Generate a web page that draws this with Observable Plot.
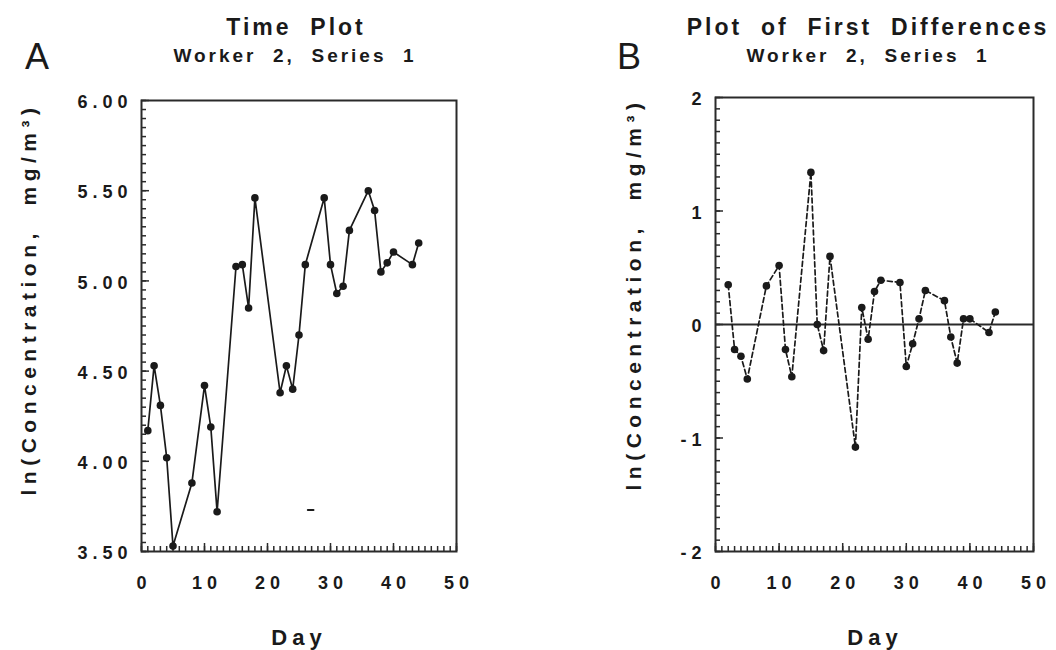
<!DOCTYPE html>
<html>
<head>
<meta charset="utf-8">
<script src="https://cdn.jsdelivr.net/npm/d3@7"></script>
<script src="https://cdn.jsdelivr.net/npm/@observablehq/plot@0.6"></script>
<style>
  html, body { margin: 0; padding: 0; background: #ffffff; }
  #root { position: relative; width: 1056px; height: 650px; overflow: hidden;
          font-family: "Liberation Sans", Arial, Helvetica, sans-serif; color: #1a1a1a; }
  .panel { position: absolute; top: 0; width: 528px; height: 650px; }
  .panel svg { position: absolute; left: 0; top: 0; overflow: visible; }
  .t { position: absolute; white-space: pre; line-height: 1; transform: translate(-50%, -50%); font-weight: bold; }
  .letter { font-weight: normal; font-size: 36px; }
  .title { font-size: 23px; letter-spacing: 3px; }
  .sub { font-size: 19px; letter-spacing: 3px; }
  .xlab { font-size: 22px; letter-spacing: 5px; }
  .ylab { font-size: 21px; letter-spacing: 5.5px; transform: translate(-50%, -50%) rotate(-90deg); }
</style>
</head>
<body>
<div id="root"></div>
<script>
// ---- Data ----
const days = [1, 2, 3, 4, 5, 8, 10, 11, 12, 15, 16, 17, 18, 22, 23, 24, 25, 26, 29, 30, 31, 32, 33, 36, 37, 38, 39, 40, 43, 44];
const lnConc = [4.17, 4.53, 4.31, 4.02, 3.53, 3.88, 4.42, 4.19, 3.72, 5.08, 5.09, 4.85, 5.46, 4.38, 4.53, 4.40, 4.70, 5.09, 5.46, 5.09, 4.93, 4.97, 5.28, 5.50, 5.39, 5.05, 5.10, 5.16, 5.09, 5.21];
const diffDays = [2, 3, 4, 5, 8, 10, 11, 12, 15, 16, 17, 18, 22, 23, 24, 25, 26, 29, 30, 31, 32, 33, 36, 37, 38, 39, 40, 43, 44];
const firstDiffs = [0.35, -0.22, -0.28, -0.48, 0.34, 0.52, -0.22, -0.46, 1.34, 0.00, -0.23, 0.60, -1.08, 0.15, -0.13, 0.29, 0.39, 0.37, -0.37, -0.17, 0.05, 0.30, 0.21, -0.11, -0.34, 0.05, 0.05, -0.07, 0.11];
// stray dash visible in panel A
const strayDay = [26.4, 27.3];
const strayVal = [3.73, 3.73];

const xTicks = [0, 10, 20, 30, 40, 50];
const yTicksA = [3.5, 4.0, 4.5, 5.0, 5.5, 6.0];
const yTicksB = [-2, -1, 0, 1, 2];
const xMinor = d3.range(0, 51, 1);
const yMinorA = d3.range(3.5, 6.0001, 0.05);
const yMinorB = d3.range(-2, 2.0001, 0.1);

const titles = {
  A: {letter: "A", title: "Time  Plot", sub: "Worker  2,  Series  1"},
  B: {letter: "B", title: "Plot  of  First  Differences", sub: "Worker  2,  Series  1"}
};
const yLabel = "ln(Concentration,  mg/m³)";
const xLabel = "Day";

const seriesA = days.map((d, i) => ({day: d, value: lnConc[i]}));
const seriesB = diffDays.map((d, i) => ({day: d, value: firstDiffs[i]}));
const stray = strayDay.map((d, i) => ({day: d, value: strayVal[i]}));

const ink = "#1a1a1a";
const frameInk = "#2a2a2a";
const plotStyle = {
  fontFamily: '"Liberation Sans", Arial, Helvetica, sans-serif',
  fontSize: "18px", fontWeight: "bold", letterSpacing: "5px",
  background: "transparent", color: ink, overflow: "visible"
};
const minusFmt = d => (d < 0 ? "-" + Math.abs(d) : String(d));

// inward ticks drawn with tick marks that only occupy the last L pixels of the frame
function inwardTicks(yMinor, yMajor, frameW, frameH) {
  const tx = (ticks, L) => Plot.tickX(ticks, {x: d => d, insetTop: frameH - L, stroke: frameInk, strokeWidth: 1.5});
  const ty = (ticks, L) => Plot.tickY(ticks, {y: d => d, insetRight: frameW - L, stroke: frameInk, strokeWidth: 1.5});
  return [tx(xMinor, 5), tx(xTicks, 8), ty(yMinor, 5), ty(yMajor, 8)];
}

function labelAxes(yMajor, yFmt) {
  return [
    Plot.axisX({ticks: xTicks, tickSize: 0, tickPadding: 25, tickFormat: d => String(d), dx: 2.5, fill: ink, label: null}),
    Plot.axisY({ticks: yMajor, tickSize: 0, tickPadding: 9, tickFormat: yFmt, dy: 2, fill: ink, label: null})
  ];
}

const A = {left: 141, right: 72, top: 100, bottom: 99};
const B = {left: 187, right: 23, top: 97, bottom: 99};

const plotA = Plot.plot({
  width: 528, height: 650,
  marginLeft: A.left, marginRight: A.right, marginTop: A.top, marginBottom: A.bottom,
  x: {domain: [0, 50], label: null},
  y: {domain: [3.5, 6.0], label: null},
  style: plotStyle,
  marks: [
    ...labelAxes(yTicksA, d3.format(".2f")),
    ...inwardTicks(yMinorA, yTicksA, 528 - A.left - A.right, 650 - A.top - A.bottom),
    Plot.frame({stroke: frameInk, strokeWidth: 2}),
    Plot.line(seriesA, {x: "day", y: "value", stroke: ink, strokeWidth: 1.7}),
    Plot.dot(seriesA, {x: "day", y: "value", r: 3.8, fill: ink, stroke: "none"}),
    Plot.line(stray, {x: "day", y: "value", stroke: ink, strokeWidth: 2})
  ]
});

const plotB = Plot.plot({
  width: 528, height: 650,
  marginLeft: B.left, marginRight: B.right, marginTop: B.top, marginBottom: B.bottom,
  x: {domain: [0, 50], label: null},
  y: {domain: [-2, 2], label: null},
  style: plotStyle,
  marks: [
    ...labelAxes(yTicksB, minusFmt),
    ...inwardTicks(yMinorB, yTicksB, 528 - B.left - B.right, 650 - B.top - B.bottom),
    Plot.frame({stroke: frameInk, strokeWidth: 2}),
    Plot.ruleY([0], {stroke: frameInk, strokeWidth: 2}),
    Plot.line(seriesB, {x: "day", y: "value", stroke: ink, strokeWidth: 1.7, strokeDasharray: "5,3"}),
    Plot.dot(seriesB, {x: "day", y: "value", r: 3.8, fill: ink, stroke: "none"})
  ]
});

const root = document.getElementById("root");
function addText(parent, cls, text, x, y) {
  const el = document.createElement("div");
  el.className = "t " + cls;
  el.textContent = text;
  el.style.left = x + "px";
  el.style.top = y + "px";
  parent.appendChild(el);
}

const panelA = document.createElement("div");
panelA.className = "panel"; panelA.style.left = "0px";
panelA.appendChild(plotA);
root.appendChild(panelA);

const panelB = document.createElement("div");
panelB.className = "panel"; panelB.style.left = "528px";
panelB.appendChild(plotB);
root.appendChild(panelB);

// Panel A texts (page coordinates)
addText(root, "letter", titles.A.letter, 37, 57);
addText(root, "title", titles.A.title, 296, 27);
addText(root, "sub", titles.A.sub, 295, 55);
addText(root, "xlab", xLabel, 299, 638);
addText(root, "ylab", yLabel, 28, 299);
// Panel B texts
addText(root, "letter", titles.B.letter, 629, 57);
addText(root, "title", titles.B.title, 868, 27);
addText(root, "sub", titles.B.sub, 868, 55);
addText(root, "xlab", xLabel, 875, 638);
addText(root, "ylab", yLabel, 633, 294);
</script>
</body>
</html>
